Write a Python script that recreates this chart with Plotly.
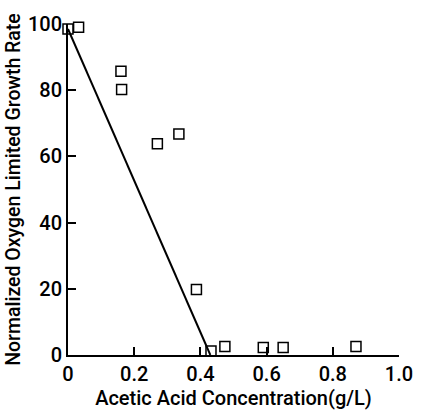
import plotly.graph_objects as go

# Data
conc = [0.0, 0.032, 0.16, 0.162, 0.27, 0.335, 0.388, 0.432, 0.474, 0.59, 0.65, 0.87]
rate = [98.5, 99.0, 85.7, 80.2, 63.8, 66.8, 19.8, 1.2, 2.6, 2.3, 2.3, 2.6]

fit_x = [0.0, 0.43]
fit_y = [98.5, 0.0]

x_ticks = [0, 0.2, 0.4, 0.6, 0.8, 1.0]
x_labels = ["0", "0.2", "0.4", "0.6", "0.8", "1.0"]
y_ticks = [0, 20, 40, 60, 80, 100]
y_labels = ["0", "20", "40", "60", "80", "100"]

font_family = "Roboto, Liberation Sans, Arial, sans-serif"

fig = go.Figure()
fig.add_trace(go.Scatter(
    x=fit_x, y=fit_y, mode="lines",
    line=dict(color="black", width=2),
    cliponaxis=False, showlegend=False, hoverinfo="skip",
))
fig.add_trace(go.Scatter(
    x=conc, y=rate, mode="markers",
    marker=dict(symbol="square-open", size=10, color="black", line=dict(width=1.5, color="black")),
    cliponaxis=False, showlegend=False,
))

fig.update_layout(
    width=425, height=415,
    margin=dict(l=68, r=17, t=14, b=58),
    paper_bgcolor="white", plot_bgcolor="white",
    font=dict(family=font_family, size=20, color="black", weight=500),
    xaxis=dict(
        range=[0, 1.0], tickvals=x_ticks, ticktext=x_labels,
        showline=True, linecolor="black", linewidth=2,
        ticks="inside", ticklen=8, tickwidth=1.5, tickcolor="black",
        showgrid=False, zeroline=False,
        title=dict(text="Acetic Acid Concentration(g/L)",
                   font=dict(size=20, weight=500), standoff=3),
        tickfont=dict(size=20, weight=500),
    ),
    yaxis=dict(
        range=[0, 100], tickvals=y_ticks, ticktext=y_labels,
        showline=True, linecolor="black", linewidth=2,
        ticks="inside", ticklen=8, tickwidth=1.5, tickcolor="black",
        showgrid=False, zeroline=False,
        title=dict(text="Normalized Oxygen Limited Growth Rate",
                   font=dict(size=19.5, weight=500), standoff=2),
        tickfont=dict(size=20, weight=500),
    ),
)

# remove the browser's default 8px page margin so the figure sits at (0, 0)
fig.write_html("out.html", config={"displayModeBar": False},
               post_script="document.body.style.margin='0';")
